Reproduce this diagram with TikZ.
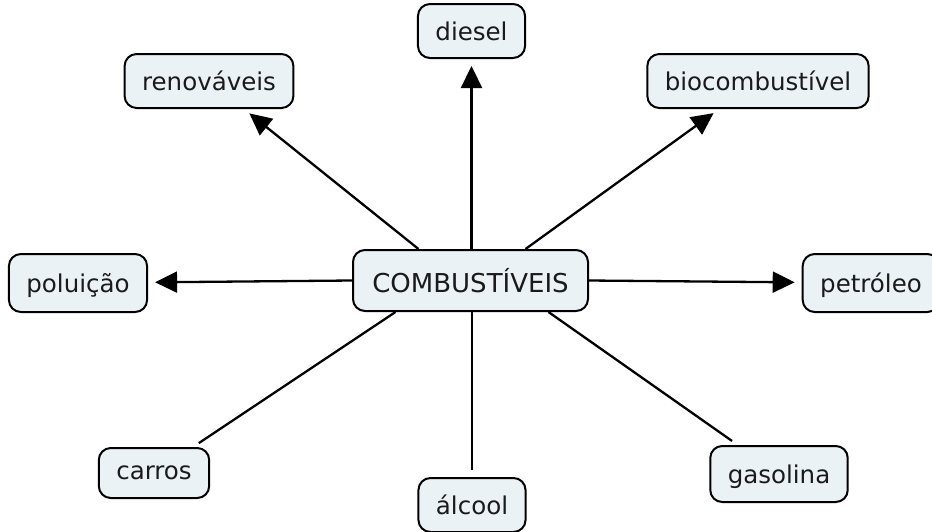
\documentclass[tikz,border=0pt]{standalone}
\usepackage{fontspec}
\setmainfont{DejaVu Sans}
\usetikzlibrary{arrows.meta}
\definecolor{boxfill}{HTML}{EBF2F5}
\definecolor{inktext}{HTML}{1A1A1A}
\tikzset{
  concept/.style={draw=black, line width=2pt, fill=boxfill, rounded corners=12pt,
    text=inktext, font=\fontsize{24.5}{29}\selectfont, inner xsep=17.5pt,
    minimum height=54pt, text depth=0pt},
  link/.style={line width=2.3pt, shorten >=7pt},
  linkarrow/.style={link, -{Triangle[length=22pt,width=21pt]}}
}
\begin{document}
\begin{tikzpicture}[x=1pt,y=-1pt]
  \clip (0,0) rectangle (932,531);
  \fill[white] (0,0) rectangle (932,531);

  % central concept
  \node[concept, font=\fontsize{26}{31}\selectfont, minimum height=61pt, minimum width=235pt]
    (comb) at (470.5,280.5) {COMBUSTÍVEIS};

  % surrounding concepts
  \node[concept] (diesel) at (471.5,31) {diesel};
  \node[concept] (renov)  at (209,81)   {renováveis};
  \node[concept] (bio)    at (758,81)   {biocombustível};
  \node[concept, minimum height=58pt] (polu)   at (78,283)   {poluição};
  \node[concept, minimum height=58pt] (petro)  at (871,283)  {petróleo};
  \node[concept, minimum height=50pt] (carros) at (154,473)  {carros};
  \node[concept] (alcool) at (472,505)  {álcool};
  \node[concept, minimum height=56pt] (gaso)   at (779,474)  {gasolina};

  % arrows leaving the central concept
  \draw[linkarrow] (comb.north -| diesel) -- (diesel);
  \draw[linkarrow] ([xshift=-52pt]comb.north) -- (renov);
  \draw[linkarrow] ([xshift=55pt]comb.north) -- (bio);
  \draw[linkarrow] (comb.west) -- (polu);
  \draw[linkarrow] (comb.east) -- (petro);

  % plain links
  \draw[link] ([xshift=-75pt]comb.south) -- (carros);
  \draw[link] (comb.south -| alcool) -- (alcool);
  \draw[link] ([xshift=78pt]comb.south) -- (gaso);
\end{tikzpicture}
\end{document}
